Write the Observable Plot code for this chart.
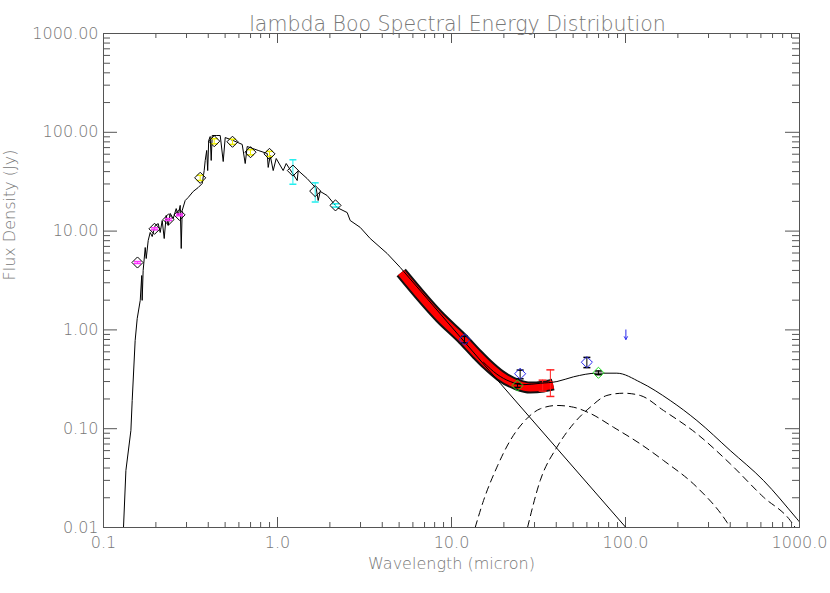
<!DOCTYPE html>
<html><head><meta charset="utf-8">
<script src="https://cdn.jsdelivr.net/npm/d3@7"></script>
<script src="https://cdn.jsdelivr.net/npm/@observablehq/plot@0.6"></script>
<style>body{margin:0;background:#fff;} svg{display:block}</style>
</head><body><div id="chart"></div>
<script>
// ---------- data ----------
const titleText = "lambda Boo Spectral Energy Distribution";
const xLabelText = "Wavelength (micron)";
const yLabelText = "Flux Density (Jy)";
const xTickValues = [0.1, 1, 10, 100, 1000];
const xTickLabels = ["0.1", "1.0", "10.0", "100.0", "1000.0"];
const yTickValues = [0.01, 0.1, 1, 10, 100, 1000];
const yTickLabels = ["0.01", "0.10", "1.00", "10.00", "100.00", "1000.00"];

// stellar photosphere model (micron, Jy)
const specWave = [0.1303,0.1345,0.1437,0.1462,0.152,0.1562,0.1626,0.1658,0.1668,0.169,
  0.1737,0.176,0.1807,0.1855,0.1905,0.1982,0.2063,0.2118,0.2175,0.2233,
  0.2293,0.2354,0.2417,0.2515,0.2617,0.2687,0.276,0.2797,0.2834,0.2948,
  0.3068,0.3278,0.3502,0.3692,0.3791,0.3842,0.3918,0.397,0.4023,0.4104,
  0.4159,0.4214,0.4444,0.4686,0.4875,0.5006,0.5563,0.6268,0.6523,0.6698,
  0.7747,0.8727,0.8843,0.908,0.9447,0.983,1.078,1.122,1.298,1.315,
  1.481,1.669,1.713,1.76,1.93,2.203,2.515,2.617,2.988,3.41,
  4.27,5.073,19.05,100.5];
const specFlux = [0.01,0.0378,0.096,0.193,0.78,1.30,1.99,3.55,1.99,3.99,
  6.82,5.28,8.04,9.69,8.81,11.4,11.9,9.69,12.8,8.41,
  14.4,11.4,15.1,13.4,16.9,14.4,18.2,6.67,16.2,20.4,
  21.9,25.2,27.6,30.3,41.0,51.9,65.5,41.0,82.6,90.6,
  51.9,92.8,92.8,92.8,50.6,88.5,82.6,75.4,48.3,71.8,
  65.5,61.0,44.1,58.2,41.0,54.3,41.0,48.3,32.5,41.0,
  34.0,27.0,20.4,25.2,22.9,17.3,15.4,12.8,10.9,8.41,
  5.93,4.29,0.288,0.01];

// IRS spectrum
const irsWave = [5.14, 8.61, 11.67, 14.05, 16.04, 19.05, 23.86, 28.33, 33.65, 38.4];
const irsFlux = [3.81, 1.335, 0.80, 0.564, 0.447, 0.3455, 0.280, 0.261, 0.267, 0.280];

// dust components
const warmWave = [13.68, 15.28, 18.24, 21.75, 25.93, 32.35, 40.35, 50.24, 62.69, 85.3, 121.5, 165.3, 257.2, 382.6, 400];
const warmFlux = [0.01, 0.01875, 0.0408, 0.076, 0.1164, 0.159, 0.1718, 0.165, 0.1428, 0.1035, 0.0703, 0.0477, 0.0256, 0.01132, 0.0100];
const coolWave = [27.35, 32.35, 40.35, 50.24, 62.69, 78.2, 97.4, 121.5, 165.3, 257.2, 399.6, 621, 884.5, 945];
const coolFlux = [0.01, 0.0299, 0.065, 0.1122, 0.165, 0.217, 0.2287, 0.217, 0.153, 0.0888, 0.0442, 0.0203, 0.01178, 0.01];
const totalWave = [15.28, 18.24, 21.75, 25.93, 32.35, 40.35, 50.24, 68.5, 89.2, 121.5, 180.7, 257.2, 399.6, 621, 966, 1000];
const totalFlux = [0.47, 0.356, 0.30, 0.279, 0.288, 0.300, 0.335, 0.3647, 0.3647, 0.2955, 0.193, 0.121, 0.0602, 0.0299, 0.01225, 0.0114];

// photometry
const photWave = [0.1568, 0.1964, 0.2364, 0.2734, 0.3595, 0.4328, 0.5512, 0.6995, 0.8995, 1.226, 1.647, 2.154, 11.88, 24.8, 59.98, 23.95, 69.9];
const photFlux = [4.81, 10.55, 13.1, 14.6, 34.6, 81.3, 80.2, 62.9, 60.5, 41.0, 25.4, 18.2, 0.80, 0.360, 0.471, 0.2736, 0.368];
const photLo   = [4.70, 10.3, 12.8, 14.3, 32.5, 76.4, 75.4, 59.1, 56.9, 29.8, 19.7, 17.5, 0.74, 0.320, 0.415, 0.262, 0.352];
const photHi   = [4.92, 10.8, 13.4, 14.9, 36.7, 86.2, 85.0, 66.7, 64.1, 52.7, 30.8, 18.9, 0.86, 0.392, 0.527, 0.286, 0.384];
const photOutline = ["#000","#000","#000","#000","#000","#000","#000","#000","#000","#000","#000","#000","#2a2aee","#2a2aee","#2a2aee","#22dd22","#22dd22"];
const photBar = ["#ff33ff","#ff33ff","#ff33ff","#ff33ff","#eeee00","#eeee00","#eeee00","#eeee00","#eeee00","#22eeee","#22eeee","#22eeee","#000","#000","#000","#000","#000"];

// red error bars at the end of the IRS spectrum
const irsErrWave = [33.4, 37.0];
const irsErrLo = [0.24, 0.212];
const irsErrHi = [0.31, 0.394];

// upper limit (IRAS 100 micron)
const limitWave = [100.5];
const limitFrom = [1.0];
const limitTo = [0.80];

// ---------- build ----------
const W = 830, H = 593, mL = 103, mR = 31, mT = 33, mB = 66;
const plotW = W - mL - mR, plotH = H - mT - mB;
const zipXY = (xs, ys) => xs.map((x, i) => ({w: x, f: ys[i]}));
const spec = zipXY(specWave, specFlux);
const irs = zipXY(irsWave, irsFlux);
const warm = zipXY(warmWave, warmFlux);
const cool = zipXY(coolWave, coolFlux);
const total = zipXY(totalWave, totalFlux);
const phot = photWave.map((w, i) => ({w, f: photFlux[i], lo: photLo[i], hi: photHi[i], outline: photOutline[i], bar: photBar[i]}));
const irsErr = irsErrWave.map((w, i) => ({w, lo: irsErrLo[i], hi: irsErrHi[i]}));
const limits = limitWave.map((w, i) => ({w, f1: limitFrom[i], f2: limitTo[i]}));

const allX = d3.scaleLog().domain([0.1, 1000]).ticks();
const allY = d3.scaleLog().domain([0.01, 1000]).ticks();
const isMajor = (v, majors) => majors.some(m => Math.abs(m - v) / m < 1e-6);
const minorX = allX.filter(v => !isMajor(v, xTickValues));
const minorY = allY.filter(v => !isMajor(v, yTickValues));

const capSymbol = {draw(ctx, size) { const h = Math.sqrt(size / Math.PI); ctx.moveTo(-h, 0); ctx.lineTo(h, 0); }};
const axisColor = "#555";
const textColor = "#777";
const font = {fill: textColor, fontWeight: 200};

const chart = Plot.plot({
  width: W, height: H,
  marginLeft: mL, marginRight: mR, marginTop: mT, marginBottom: mB,
  x: {type: "log", domain: [0.1, 1000], axis: null},
  y: {type: "log", domain: [0.01, 1000], axis: null},
  color: {type: "identity"},
  style: {fontFamily: "'DejaVu Sans', sans-serif", background: "#fff"},
  marks: [
    // ticks (inside, on all four sides)
    Plot.tickX(xTickValues, {x: d => d, insetTop: plotH - 10, stroke: axisColor}),
    Plot.tickX(minorX, {x: d => d, insetTop: plotH - 5, stroke: axisColor}),
    Plot.tickX(xTickValues, {x: d => d, insetBottom: plotH - 10, stroke: axisColor}),
    Plot.tickX(minorX, {x: d => d, insetBottom: plotH - 5, stroke: axisColor}),
    Plot.tickY(yTickValues, {y: d => d, insetRight: plotW - 14, stroke: axisColor}),
    Plot.tickY(minorY, {y: d => d, insetRight: plotW - 7, stroke: axisColor}),
    Plot.tickY(yTickValues, {y: d => d, insetLeft: plotW - 14, stroke: axisColor}),
    Plot.tickY(minorY, {y: d => d, insetLeft: plotW - 7, stroke: axisColor}),
    Plot.frame({stroke: axisColor}),
    // tick labels
    Plot.text(xTickValues, {x: d => d, text: (d, i) => xTickLabels[i], frameAnchor: "bottom", dy: 20, fontSize: 16, letterSpacing: 1.2, ...font}),
    Plot.text(yTickValues, {y: d => d, text: (d, i) => yTickLabels[i], frameAnchor: "left", textAnchor: "end", dx: -5, fontSize: 16, letterSpacing: 1.6, ...font}),
    // titles
    Plot.text([titleText], {text: d => d, frameAnchor: "top", dy: -17, dx: 6, fontSize: 20.5, letterSpacing: 1.1, ...font}),
    Plot.text([xLabelText], {text: d => d, frameAnchor: "bottom", dy: 41, fontSize: 16, letterSpacing: 0.6, ...font}),
    Plot.text([yLabelText], {text: d => d, frameAnchor: "left", dx: -94, rotate: -90, fontSize: 16, letterSpacing: 0.5, ...font}),
    // IRS spectrum band
    Plot.line(irs, {x: "w", y: "f", stroke: "#111", strokeWidth: 12, strokeLinecap: "butt", curve: "monotone-x", clip: true}),
    Plot.line(irs, {x: "w", y: "f", stroke: "#ff0000", strokeWidth: 8, strokeLinecap: "butt", curve: "monotone-x", clip: true}),
    Plot.ruleX(irsErr, {x: "w", y1: "lo", y2: "hi", stroke: "#ff2020"}),
    Plot.dot(irsErr, {x: "w", y: "lo", symbol: capSymbol, r: 4, stroke: "#ff2020"}),
    Plot.dot(irsErr, {x: "w", y: "hi", symbol: capSymbol, r: 4, stroke: "#ff2020"}),
    // models
    Plot.line(warm, {x: "w", y: "f", stroke: "#000", strokeWidth: 1, strokeDasharray: "7,5", curve: "monotone-x", clip: true}),
    Plot.line(cool, {x: "w", y: "f", stroke: "#000", strokeWidth: 1, strokeDasharray: "7,5", curve: "monotone-x", clip: true}),
    Plot.line(total, {x: "w", y: "f", stroke: "#000", strokeWidth: 1, curve: "monotone-x", clip: true}),
    Plot.line(spec, {x: "w", y: "f", stroke: "#000", strokeWidth: 1, clip: true}),
    // photometry
    Plot.ruleX(phot, {x: "w", y1: "lo", y2: "hi", stroke: "bar"}),
    Plot.dot(phot, {x: "w", y: "lo", symbol: capSymbol, r: 3.5, stroke: "bar", fill: "none"}),
    Plot.dot(phot, {x: "w", y: "hi", symbol: capSymbol, r: 3.5, stroke: "bar", fill: "none"}),
    Plot.dot(phot, {x: "w", y: "f", symbol: "diamond2", r: 5, stroke: "outline", fill: "none", strokeWidth: 1}),
    Plot.arrow(limits, {x1: "w", y1: "f1", x2: "w", y2: "f2", stroke: "#2a2aee", headLength: 6, strokeWidth: 1})
  ]
});
document.getElementById("chart").appendChild(chart);
</script>
</body></html>
